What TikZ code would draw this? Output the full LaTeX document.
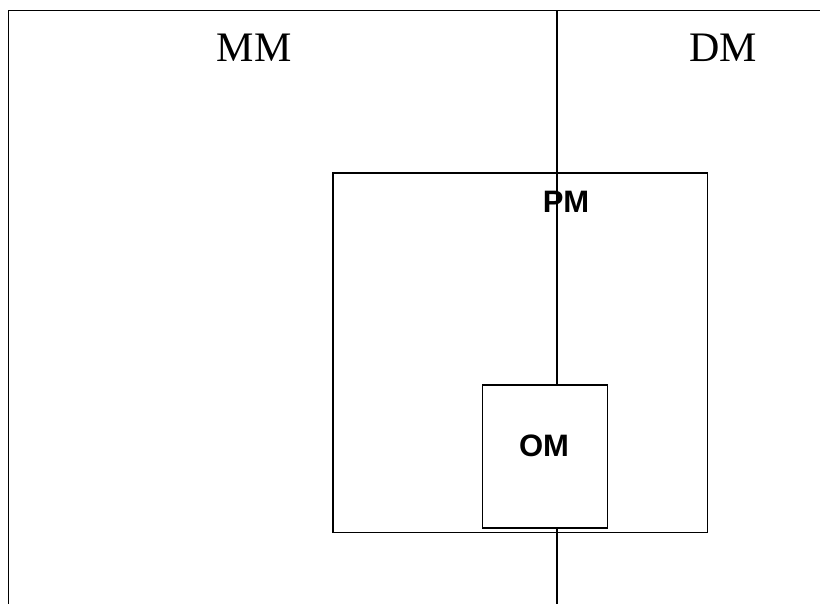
\documentclass[tikz,border=0pt]{standalone}
\usepackage{fontspec}
\setmainfont{Liberation Serif}
\newfontfamily\arialfont{Liberation Sans}
\begin{document}
\begin{tikzpicture}[x=1bp,y=-1bp,
  line/.style={line width=1.6bp,draw=black},
  boxnode/.style={line, rectangle, inner sep=0pt, anchor=north west},
  bigtext/.style={font=\fontsize{42bp}{46bp}\selectfont, anchor=base, inner sep=0pt},
  smalltext/.style={font=\arialfont\bfseries\fontsize{31bp}{34bp}\selectfont, anchor=base, inner sep=0pt}]
\useasboundingbox (0,0) rectangle (820,604);
% frame
\coordinate (fbl) at (8.3,604);
\coordinate (ftl) at (8.3,10.7);
\coordinate (ftr) at (820,10.7);
\draw[line] (fbl) -- (ftl) -- (ftr);
% boxes
\node[boxnode, minimum width=374.4bp, minimum height=359.4bp] (pm) at (332.3,172.3) {};
\node[boxnode, fill=white, minimum width=125bp, minimum height=143.3bp] (om) at (481.7,384) {};
% divider
\coordinate (dtop) at (556.7,10.7);
\coordinate (dbot) at (556.7,604);
\draw[line] (dtop) -- (om.north -| dtop);
\draw[line] (om.south -| dtop) -- (dbot);
% labels
\node[bigtext] (mm) at (254.2,61.7) {MM};
\node[bigtext] (dm) at (723.3,61.7) {DM};
\node[smalltext] (pmt) at (566,212.3) {PM};
\node[smalltext] (omt) at (544,456) {OM};
\end{tikzpicture}
\end{document}
